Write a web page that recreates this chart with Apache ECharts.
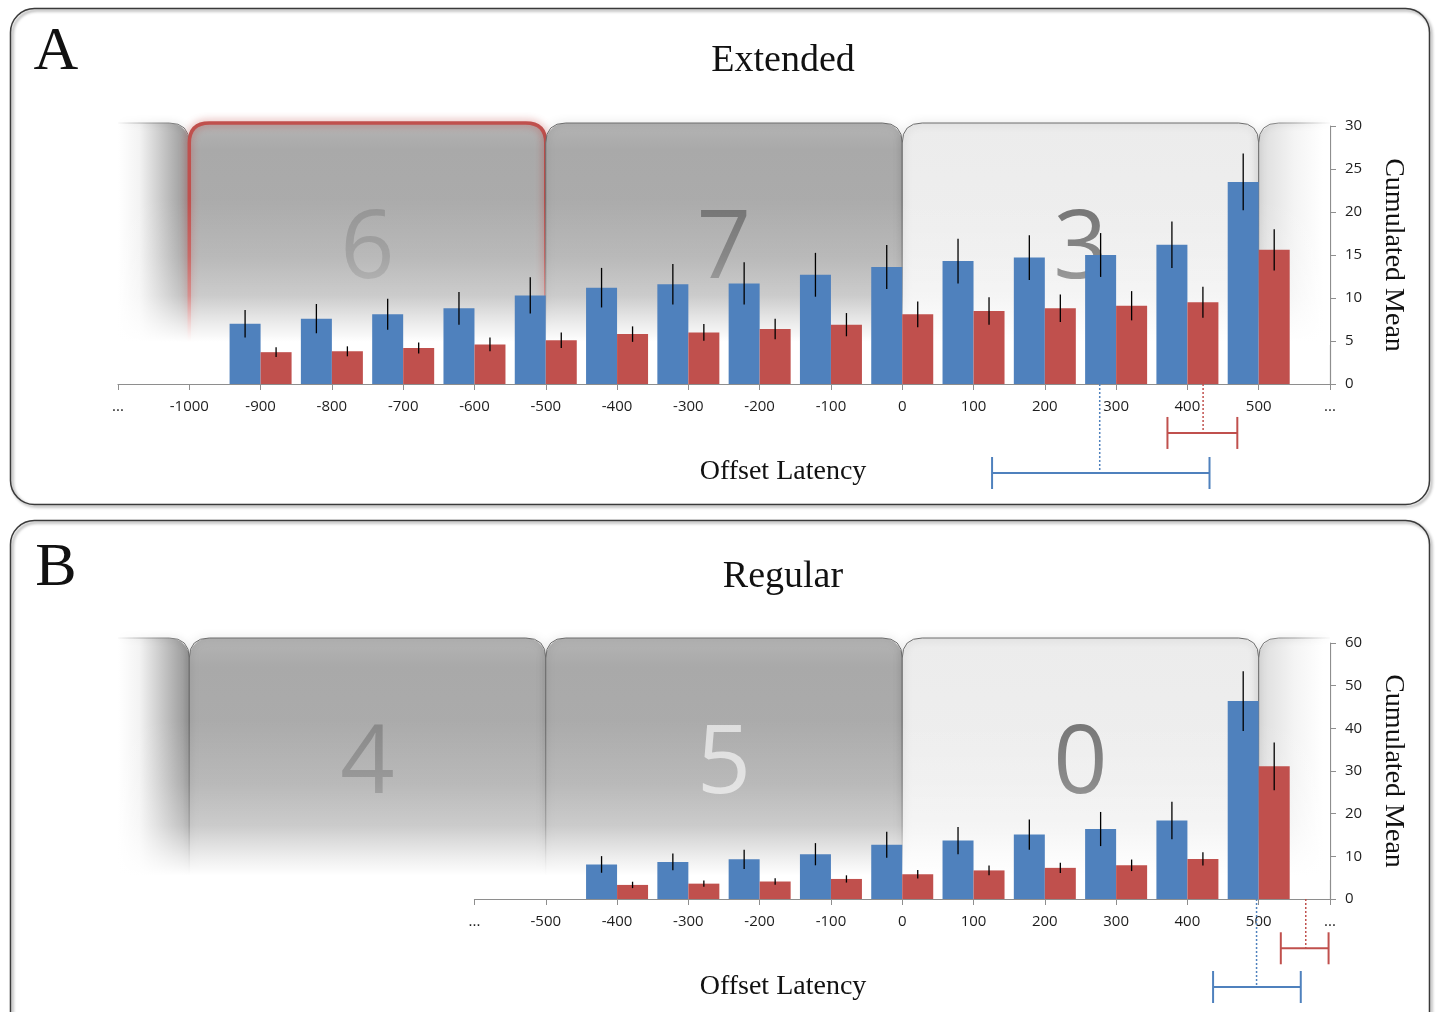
<!DOCTYPE html>
<html>
<head>
<meta charset="utf-8">
<script src="https://cdn.jsdelivr.net/npm/echarts@6/dist/echarts.min.js"></script>
<style>
  html, body { margin: 0; padding: 0; background: #ffffff; }
  #chart { width: 1436px; height: 1012px; }
</style>
</head>
<body>
<div id="chart"></div>
<script>
// ---- Panel A: Extended -------------------------------------------------
const catsA = ['...', '-1000', '-900', '-800', '-700', '-600', '-500', '-400', '-300', '-200', '-100', '0', '100', '200', '300', '400', '500', '...'];
const blueA    = [null, null, 7.0, 7.6, 8.1, 8.8, 10.3, 11.2, 11.6, 11.7, 12.7, 13.6, 14.3, 14.7, 15.0, 16.2, 23.5, null];
const blueErrA = [null, null, 1.6, 1.7, 1.8, 1.9, 2.1, 2.3, 2.35, 2.45, 2.55, 2.55, 2.6, 2.6, 2.55, 2.7, 3.3, null];
const redA     = [null, null, 3.7, 3.8, 4.2, 4.6, 5.1, 5.8, 6.0, 6.4, 6.9, 8.1, 8.5, 8.8, 9.1, 9.5, 15.6, null];
const redErrA  = [null, null, 0.57, 0.58, 0.64, 0.8, 0.9, 0.9, 0.97, 1.2, 1.35, 1.5, 1.6, 1.6, 1.7, 1.8, 2.4, null];
const binCountsA = ['6', '7', '3'];
// offset latency summary: [low, high, mean] in ms
const latencyBlueA = [126, 431, 277];
const latencyRedA  = [372, 470, 422];

// ---- Panel B: Regular --------------------------------------------------
const catsB = ['...', '-500', '-400', '-300', '-200', '-100', '0', '100', '200', '300', '400', '500', '...'];
const blueB    = [null, null, 8.1, 8.7, 9.3, 10.5, 12.7, 13.7, 15.1, 16.4, 18.4, 46.4, null];
const blueErrB = [null, null, 1.95, 1.95, 2.25, 2.6, 3.05, 3.2, 3.55, 4.0, 4.4, 7.0, null];
const redB     = [null, null, 3.3, 3.6, 4.1, 4.7, 5.8, 6.7, 7.3, 7.9, 9.4, 31.1, null];
const redErrB  = [null, null, 0.75, 0.75, 0.75, 0.85, 1.0, 1.15, 1.2, 1.35, 1.55, 5.6, null];
const binCountsB = ['4', '5', '0'];
const latencyBlueB = [436, 559, 497];
const latencyRedB  = [531, 598, 566];

// ---- shared --------------------------------------------------------------
const binEdges = [-1000, -500, 0, 500];   // 500 ms bins shown as tabs
const AXIS_MIN = -1100, AXIS_MAX = 600;   // the "..." ends of the offset axis

const COLORS = { blue: '#4f81bd', red: '#c0504d' };
const PLOT_L = 118, PLOT_R = 106;
const PLOT_W = 1436 - PLOT_L - PLOT_R;
const STEP = PLOT_W / ((AXIS_MAX - AXIS_MIN) / 100);
const BAR_W = 31;
const TICK_FONT = '"Open Sans", "Noto Sans", sans-serif';
const SERIF = '"Liberation Serif", "DejaVu Serif", serif';

const panels = [
  {
    cats: catsA, firstCat: AXIS_MIN, blue: blueA, blueErr: blueErrA, red: redA, redErr: redErrA,
    yMax: 30, yStep: 5, top: 126, height: 258,
    counts: binCountsA, tones: ['dark', 'dark', 'light'], highlight: 0,
    digitColors: ['#939393', '#727272', '#737373'],
    tabLift: 3, tabHeight: 222,
    latBlue: latencyBlueA, latRed: latencyRedA, latTop: 384, latHeight: 89, redRow: 0.55
  },
  {
    cats: catsB, firstCat: -600, blue: blueB, blueErr: blueErrB, red: redB, redErr: redErrB,
    yMax: 60, yStep: 10, top: 643, height: 256,
    counts: binCountsB, tones: ['dark', 'dark', 'light'], highlight: -1,
    digitColors: ['#888888', '#dedede', '#767676'],
    tabLift: 5, tabHeight: 242,
    latBlue: latencyBlueB, latRed: latencyRedB, latTop: 899, latHeight: 88, redRow: 0.56
  }
];

const G = echarts.graphic.LinearGradient;

function tabRenderer(p, tabs) {
  return function (params, api) {
    const t = tabs[params.dataIndex];
    const a = api.coord([t.x0, p.yMax]);
    const b = api.coord([t.x1, p.yMax]);
    const left = a[0], right = b[0];
    const top = a[1] - p.tabLift, bottom = top + p.tabHeight;
    const r = 20;
    let fill, path, radius, stroke = '#6c6c6c';
    if (t.kind === 'leftEnd') {
      fill = new G(0, 0, 1, 0, [
        { offset: 0, color: '#ffffff' }, { offset: 0.3, color: '#f3f3f3' },
        { offset: 0.85, color: '#a8a8a8' }, { offset: 1, color: '#9a9a9a' }]);
      stroke = new G(0, 0, 1, 0, [{ offset: 0, color: 'rgba(110,110,110,0)' }, { offset: 0.6, color: '#8a8a8a' }, { offset: 1, color: '#6c6c6c' }]);
      path = `M${left},${top} L${right - r},${top} Q${right},${top} ${right},${top + r} L${right},${bottom}`;
      radius = [0, r, 0, 0];
    } else if (t.kind === 'rightEnd') {
      fill = new G(0, 0, 1, 0, [
        { offset: 0, color: '#dcdcdc' }, { offset: 0.5, color: '#f4f4f4' }, { offset: 0.9, color: '#ffffff' }]);
      stroke = new G(0, 0, 1, 0, [{ offset: 0, color: '#6c6c6c' }, { offset: 0.5, color: '#a0a0a0' }, { offset: 1, color: 'rgba(160,160,160,0)' }]);
      path = `M${left},${bottom} L${left},${top + r} Q${left},${top} ${left + r},${top} L${right},${top}`;
      radius = [r, 0, 0, 0];
    } else {
      fill = t.tone === 'dark'
        ? new G(0, 0, 0, 1, [{ offset: 0, color: '#b4b4b4' }, { offset: 0.12, color: '#a9a9a9' }, { offset: 1, color: '#b0b0b0' }])
        : new G(0, 0, 0, 1, [{ offset: 0, color: '#ececec' }, { offset: 1, color: '#f0f0f0' }]);
      path = `M${left},${bottom} L${left},${top + r} Q${left},${top} ${left + r},${top} L${right - r},${top} Q${right},${top} ${right},${top + r} L${right},${bottom}`;
      radius = [r, r, 0, 0];
    }
    const children = [
      { type: 'rect', shape: { x: left, y: top, width: right - left, height: p.tabHeight, r: radius }, style: { fill: fill } }
    ];
    if (t.highlight) {
      children.push({ type: 'path', shape: { pathData: path },
        style: { fill: 'none', stroke: COLORS.red, lineWidth: 3.5, shadowBlur: 8, shadowColor: 'rgba(192,80,77,0.75)' } });
    } else {
      children.push({ type: 'path', shape: { pathData: path },
        style: { fill: 'none', stroke: stroke, lineWidth: 1, shadowBlur: 7, shadowColor: 'rgba(0,0,0,0.35)' } });
    }
    return { type: 'group', children: children };
  };
}

// bin counts sit inside the tabs and fade out with them
function countRenderer(p, bins) {
  return function (params, api) {
    const bin = bins[params.dataIndex];
    const a = api.coord([bin.x0, p.yMax]);
    const b = api.coord([bin.x1, p.yMax]);
    return {
      type: 'text',
      z2: 20,
      x: (a[0] + b[0]) / 2,
      y: a[1] - p.tabLift + 128,
      style: {
        text: bin.label,
        font: '400 95px "Open Sans", sans-serif',
        fill: p.digitColors[params.dataIndex],
        align: 'center',
        verticalAlign: 'middle'
      }
    };
  };
}

function fadeRenderer(p) {
  return function (params, api) {
    const a = api.coord([AXIS_MIN, p.yMax]);
    const b = api.coord([AXIS_MAX, p.yMax]);
    const top = a[1] - p.tabLift - 8;
    const h = p.tabHeight + 22;
    return {
      type: 'rect',
      shape: { x: a[0] - 12, y: top, width: b[0] - a[0] + 11, height: h },
      style: {
        fill: new G(0, 0, 0, 1, [
          { offset: 0, color: 'rgba(255,255,255,0)' }, { offset: 0.34, color: 'rgba(255,255,255,0)' },
          { offset: 0.58, color: 'rgba(255,255,255,0.15)' }, { offset: 0.74, color: 'rgba(255,255,255,0.36)' },
          { offset: 0.86, color: 'rgba(255,255,255,0.78)' }, { offset: 0.93, color: 'rgba(255,255,255,1)' },
          { offset: 1, color: 'rgba(255,255,255,1)' }])
      }
    };
  };
}

function errRenderer(side) {
  return function (params, api) {
    const i = api.value(0);
    const hi = api.coord([i, api.value(2)]);
    const lo = api.coord([i, api.value(1)]);
    const x = hi[0] + side * BAR_W / 2;
    return { type: 'line', shape: { x1: x, y1: hi[1], x2: x, y2: lo[1] }, style: { stroke: '#000', lineWidth: 1.3 } };
  };
}

function latencyRenderer(row, color) {
  return function (params, api) {
    const lo = api.value(0), hi = api.value(1), m = api.value(2);
    const pl = api.coord([lo, row]), ph = api.coord([hi, row]);
    const pm = api.coord([m, row]), pt = api.coord([m, 0]);
    const cap = 16;
    const st = { stroke: color, lineWidth: 2 };
    return {
      type: 'group',
      children: [
        { type: 'line', shape: { x1: pt[0], y1: pt[1], x2: pm[0], y2: pm[1] }, style: { stroke: color, lineWidth: 1.5, lineDash: [2, 2] } },
        { type: 'line', shape: { x1: pl[0], y1: pl[1], x2: ph[0], y2: ph[1] }, style: st },
        { type: 'line', shape: { x1: pl[0], y1: pl[1] - cap, x2: pl[0], y2: pl[1] + cap }, style: st },
        { type: 'line', shape: { x1: ph[0], y1: ph[1] - cap, x2: ph[0], y2: ph[1] + cap }, style: st }
      ]
    };
  };
}

const grid = [], xAxis = [], yAxis = [], series = [];

panels.forEach(function (p) {
  // bars + axes
  const gBars = grid.length;
  grid.push({ left: PLOT_L + (p.firstCat - AXIS_MIN) / 100 * STEP, right: PLOT_R, top: p.top, height: p.height });
  xAxis.push({
    gridIndex: gBars, type: 'category', data: p.cats, boundaryGap: false,
    axisLine: { show: true, lineStyle: { color: '#8e8e8e', width: 1.2 } },
    axisTick: { show: true, length: 6, lineStyle: { color: '#8e8e8e' } },
    axisLabel: { interval: 0, margin: 15, color: '#1e1e1e', fontFamily: TICK_FONT, fontSize: 15, hideOverlap: false },
    splitLine: { show: false }
  });
  yAxis.push({
    gridIndex: gBars, type: 'value', position: 'right', min: 0, max: p.yMax, interval: p.yStep,
    axisLine: { show: true, lineStyle: { color: '#8e8e8e', width: 1.2 } },
    axisTick: { show: true, length: 6, lineStyle: { color: '#8e8e8e' } },
    axisLabel: { margin: 15, color: '#1e1e1e', fontFamily: TICK_FONT, fontSize: 15 },
    splitLine: { show: false },
    name: 'Cumulated Mean', nameLocation: 'middle', nameRotate: -90, nameGap: 49,
    nameTextStyle: { fontFamily: SERIF, fontSize: 28, color: '#111' }
  });

  // backdrop tabs share the full offset range
  const gBack = grid.length;
  grid.push({ left: PLOT_L, right: PLOT_R, top: p.top, height: p.height });
  xAxis.push({ gridIndex: gBack, type: 'value', min: AXIS_MIN, max: AXIS_MAX, show: false });
  yAxis.push({ gridIndex: gBack, type: 'value', min: 0, max: p.yMax, show: false });

  // latency summary row below the axis
  const gLat = grid.length;
  grid.push({ left: PLOT_L, right: PLOT_R, top: p.latTop, height: p.latHeight });
  xAxis.push({ gridIndex: gLat, type: 'value', min: AXIS_MIN, max: AXIS_MAX, show: false });
  yAxis.push({ gridIndex: gLat, type: 'value', min: 0, max: 1, inverse: true, show: false });

  const bins = [];
  for (let i = 0; i < binEdges.length - 1; i++) {
    bins.push({ x0: binEdges[i], x1: binEdges[i + 1], label: p.counts[i] });
  }
  const tabs = [{ x0: AXIS_MIN, x1: binEdges[0], kind: 'leftEnd' }]
    .concat(bins.map(function (b, i) { return { x0: b.x0, x1: b.x1, kind: 'bin', tone: p.tones[i], highlight: i === p.highlight }; }))
    .concat([{ x0: binEdges[binEdges.length - 1], x1: AXIS_MAX, kind: 'rightEnd' }]);

  series.push({
    type: 'custom', xAxisIndex: gBack, yAxisIndex: gBack, z: 1, silent: true,
    renderItem: tabRenderer(p, tabs), data: tabs.map(function (t) { return [t.x0, t.x1]; })
  });
  series.push({
    type: 'custom', xAxisIndex: gBack, yAxisIndex: gBack, z: 1, silent: true,
    renderItem: countRenderer(p, bins), data: bins.map(function (b) { return [b.x0, b.x1]; })
  });
  series.push({
    type: 'custom', xAxisIndex: gBack, yAxisIndex: gBack, z: 2, silent: true,
    renderItem: fadeRenderer(p), data: [[AXIS_MIN, AXIS_MAX]]
  });

  series.push({ type: 'bar', xAxisIndex: gBars, yAxisIndex: gBars, data: p.blue, barWidth: BAR_W, barGap: '0%', itemStyle: { color: COLORS.blue }, z: 3, silent: true });
  series.push({ type: 'bar', xAxisIndex: gBars, yAxisIndex: gBars, data: p.red, barWidth: BAR_W, barGap: '0%', itemStyle: { color: COLORS.red }, z: 3, silent: true });

  const errData = function (vals, errs) {
    const out = [];
    vals.forEach(function (v, i) { if (v != null) out.push([i, v - errs[i], v + errs[i]]); });
    return out;
  };
  series.push({ type: 'custom', xAxisIndex: gBars, yAxisIndex: gBars, z: 4, silent: true,
    renderItem: errRenderer(-1), encode: { x: 0, y: [1, 2] }, data: errData(p.blue, p.blueErr) });
  series.push({ type: 'custom', xAxisIndex: gBars, yAxisIndex: gBars, z: 4, silent: true,
    renderItem: errRenderer(1), encode: { x: 0, y: [1, 2] }, data: errData(p.red, p.redErr) });

  series.push({ type: 'custom', xAxisIndex: gLat, yAxisIndex: gLat, z: 4, silent: true,
    renderItem: latencyRenderer(p.redRow, COLORS.red), data: [p.latRed] });
  series.push({ type: 'custom', xAxisIndex: gLat, yAxisIndex: gLat, z: 4, silent: true,
    renderItem: latencyRenderer(1, COLORS.blue), data: [p.latBlue] });
});

const frameStyle = { fill: 'none', stroke: '#3a3a3a', lineWidth: 1.5, shadowBlur: 3, shadowOffsetX: 2, shadowOffsetY: 2, shadowColor: 'rgba(0,0,0,0.45)' };
const graphic = [
  { type: 'rect', shape: { x: 10.5, y: 8.5, width: 1419, height: 496, r: 24 }, style: frameStyle, silent: true },
  { type: 'rect', shape: { x: 10.5, y: 520.5, width: 1419, height: 540, r: 24 }, style: frameStyle, silent: true },
  { type: 'text', x: 56, y: 53, style: { text: 'A', font: '62px ' + SERIF, fill: '#111', align: 'center', verticalAlign: 'middle' } },
  { type: 'text', x: 56, y: 569, style: { text: 'B', font: '62px ' + SERIF, fill: '#111', align: 'center', verticalAlign: 'middle' } },
  { type: 'text', x: 783, y: 61, style: { text: 'Extended', font: '38px ' + SERIF, fill: '#111', align: 'center', verticalAlign: 'middle' } },
  { type: 'text', x: 783, y: 577, style: { text: 'Regular', font: '38px ' + SERIF, fill: '#111', align: 'center', verticalAlign: 'middle' } },
  { type: 'text', x: 783, y: 472, style: { text: 'Offset Latency', font: '28px ' + SERIF, fill: '#111', align: 'center', verticalAlign: 'middle' } },
  { type: 'text', x: 783, y: 987, style: { text: 'Offset Latency', font: '28px ' + SERIF, fill: '#111', align: 'center', verticalAlign: 'middle' } }
];

const chart = echarts.init(document.getElementById('chart'), null, { renderer: 'canvas' });
chart.setOption({
  animation: false,
  backgroundColor: '#ffffff',
  grid: grid,
  xAxis: xAxis,
  yAxis: yAxis,
  series: series,
  graphic: graphic
});
</script>
</body>
</html>
